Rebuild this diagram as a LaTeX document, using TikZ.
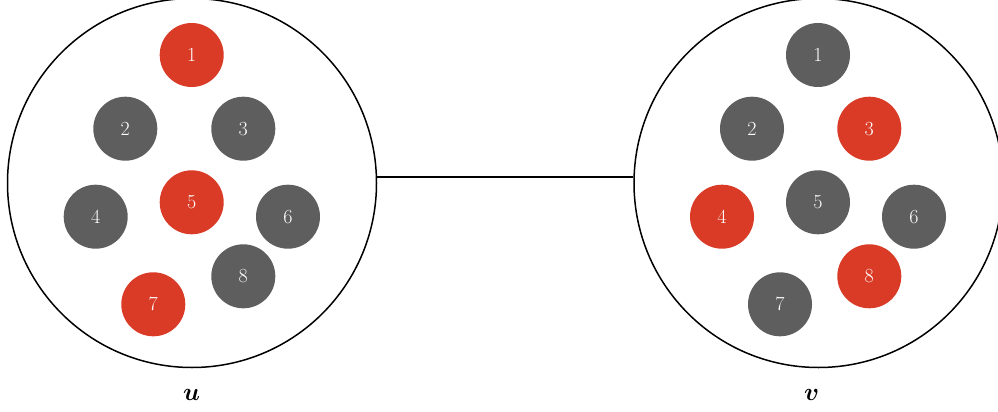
\documentclass[tikz,border=0pt]{standalone}
\usepackage{amsmath,amsbsy}
\definecolor{redb}{RGB}{217,59,39}
\definecolor{grayb}{RGB}{94,94,94}
\tikzset{
  group/.style={circle,draw=black,line width=1.5pt,minimum size=369pt,inner sep=0pt},
  ball/.style={circle,minimum size=64pt,inner sep=0pt,text=white,font=\fontsize{20}{24}\selectfont},
  rb/.style={ball,fill=redb},
  gb/.style={ball,fill=grayb},
  lab/.style={font=\fontsize{32}{38}\selectfont},
  link/.style={line width=1.5pt}
}
\begin{document}
\begin{tikzpicture}[x=1pt,y=-1pt]
\useasboundingbox (0,0) rectangle (998,412);
\node[group] (U) at (192,183) {};
\node[group] (V) at (818.5,183) {};
\draw[link] ([yshift=6pt]U.east) -- ([yshift=6pt]V.west);
% left
\node[rb] (L1) at (191.7,55) {1};
\node[gb] (L2) at (125.3,128.7) {2};
\node[gb] (L3) at (243.3,128.7) {3};
\node[gb] (L4) at (95.7,216.7) {4};
\node[rb] (L5) at (191.7,202.3) {5};
\node[gb] (L6) at (288,216.7) {6};
\node[rb] (L7) at (153.3,304.3) {7};
\node[gb] (L8) at (243.3,276.3) {8};
% right
\node[gb] (R1) at (818,55) {1};
\node[gb] (R2) at (752,128.7) {2};
\node[rb] (R3) at (869.3,128.7) {3};
\node[rb] (R4) at (722,216.7) {4};
\node[gb] (R5) at (818,202.3) {5};
\node[gb] (R6) at (914,216.7) {6};
\node[gb] (R7) at (780,304.3) {7};
\node[rb] (R8) at (869.3,276.3) {8};
% labels
\node[lab] (LU) at (191.7,395) {$\boldsymbol{u}$};
\node[lab] (LV) at (811.7,395) {$\boldsymbol{v}$};
\end{tikzpicture}
\end{document}
